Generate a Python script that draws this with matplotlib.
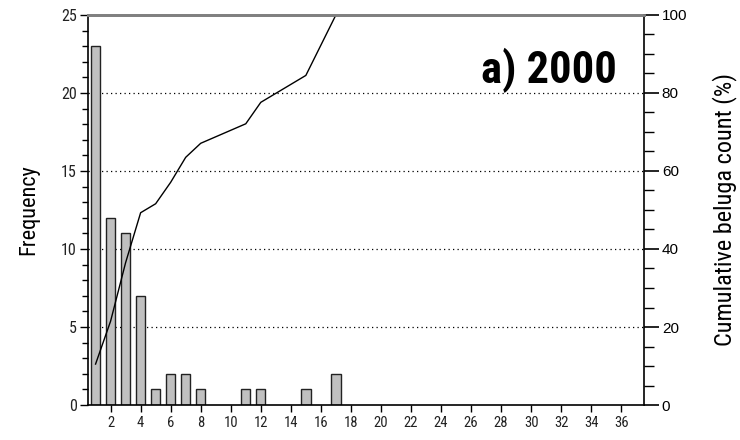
import matplotlib
matplotlib.use("Agg")
import matplotlib.pyplot as plt
from matplotlib import font_manager
from matplotlib.ticker import MultipleLocator

# Group size (number of belugas) and how often each size was seen
group_sizes = [1, 2, 3, 4, 5, 6, 7, 8, 11, 12, 15, 17]
frequency = [23, 12, 11, 7, 1, 2, 2, 1, 1, 1, 1, 2]
# Cumulative share of all belugas counted (%)
cumulative_pct = [10.5, 21.5, 36.5, 49.3, 51.6, 57.1, 63.5, 67.1, 72.1, 77.6, 84.5, 100.0]

x_ticks = list(range(2, 37, 2))
grid_levels = [5, 10, 15, 20]
title_text = "a) 2000"

available = {f.name for f in font_manager.fontManager.ttflist}
narrow_choices = ["Liberation Sans Narrow", "Arial Narrow", "Roboto Condensed",
                  "Archivo Narrow", "PT Sans Narrow", "Sofia Sans Condensed"]
narrow_font = next((n for n in narrow_choices if n in available), "Liberation Sans")
narrow = [narrow_font, "DejaVu Sans"]
regular = ["Liberation Sans", "DejaVu Sans"]

fig = plt.figure(figsize=(7.4, 4.4), dpi=100)
ax = fig.add_axes([0.119, 0.0795, 0.751, 0.8865])
ax2 = ax.twinx()
# Percentage axis sits on top so the curve crosses over the bars
ax2.set_zorder(ax.get_zorder() + 1)
ax2.patch.set_visible(False)

for v in grid_levels:
    ax.axhline(v, color="black", linestyle=(0, (1, 2.6)), linewidth=0.9,
               zorder=0)

ax.bar(group_sizes, frequency, width=0.62, color="#c0c0c0",
       edgecolor="#222222", linewidth=1.0, zorder=2)
ax2.plot(group_sizes, cumulative_pct, color="black", linewidth=1.0)

ax.set_xlim(0.5, 37.5)
ax.set_ylim(0, 25)
ax2.set_ylim(0, 100)

ax.set_xticks(x_ticks)
ax.yaxis.set_major_locator(MultipleLocator(5))
ax.yaxis.set_minor_locator(MultipleLocator(1))
ax2.yaxis.set_major_locator(MultipleLocator(20))
ax2.yaxis.set_minor_locator(MultipleLocator(5))

ax.tick_params(axis="x", which="major", direction="out", length=5, width=1,
               pad=3)
ax.tick_params(axis="y", which="major", direction="out", length=6, width=1,
               pad=2)
ax.tick_params(axis="y", which="minor", direction="out", length=4, width=1)
ax2.tick_params(axis="y", which="major", direction="out", length=11, width=1.2,
                pad=2)
ax2.tick_params(axis="y", which="minor", direction="out", length=7, width=1)

for lab in ax.get_xticklabels():
    lab.set_fontfamily(narrow)
    lab.set_fontsize(10.5)
    lab.set_color("#222222")
for lab in ax.get_yticklabels():
    lab.set_fontfamily(narrow)
    lab.set_fontsize(11.5)
    lab.set_color("#222222")
for lab in ax2.get_yticklabels():
    lab.set_fontfamily(regular)
    lab.set_fontsize(11)

for side in ["left", "bottom"]:
    ax.spines[side].set_linewidth(1.2)
    ax.spines[side].set_color("black")
for a in (ax, ax2):
    a.spines["top"].set_color("#808080")
    a.spines["top"].set_linewidth(2)
ax.spines["right"].set_visible(False)
ax2.spines["right"].set_linewidth(1.2)
ax2.spines["right"].set_color("black")
ax2.spines["left"].set_visible(False)
ax2.spines["bottom"].set_visible(False)

ax.set_ylabel("Frequency", fontfamily=narrow, fontsize=16, labelpad=16)
ax2.set_ylabel("Cumulative beluga count (%)", fontfamily=narrow, fontsize=17.5,
               labelpad=18)

ax.text(0.951, 0.826, title_text, transform=ax.transAxes, ha="right",
        va="baseline", fontfamily=narrow, fontweight="bold", fontsize=32)

fig.savefig("out.png", dpi=100)
